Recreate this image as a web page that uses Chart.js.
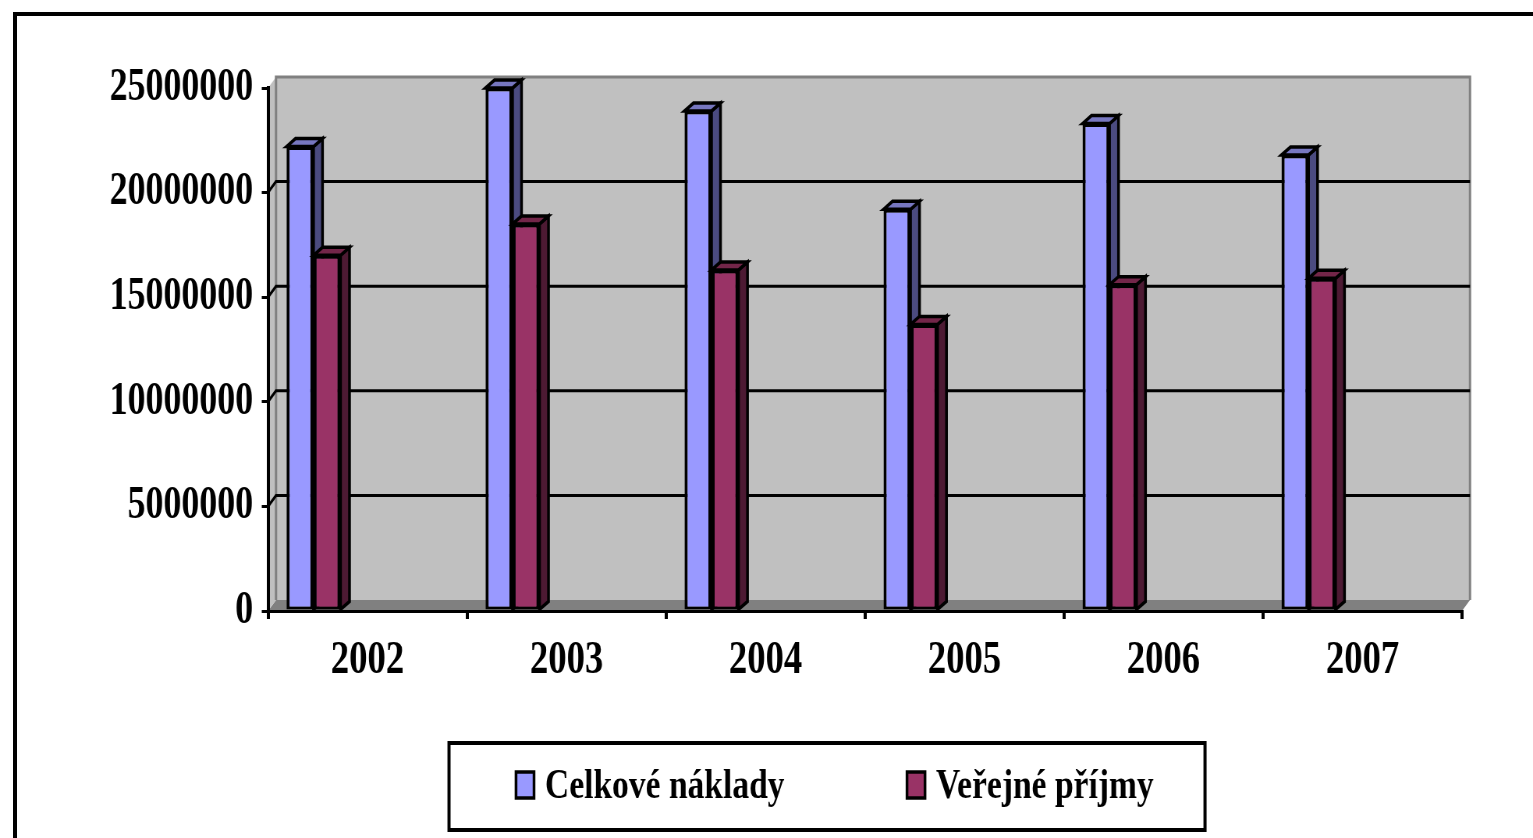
<!DOCTYPE html>
<html>
<head>
<meta charset="utf-8">
<script src="https://cdn.jsdelivr.net/npm/chart.js@4"></script>
<style>
html, body { margin:0; padding:0; background:#fff; overflow:hidden; width:1533px; height:838px; }
#frame { position:absolute; left:13px; top:12px; width:1600px; height:900px; border-left:4px solid #000; border-top:4px solid #000; }
#wrap { position:absolute; left:0; top:0; width:1965px; height:838px; transform:scaleX(0.78015); transform-origin:0 0; }
</style>
</head>
<body>
<div id="frame"></div>
<div id="wrap"><canvas id="c" width="1965" height="838"></canvas></div>
<script>
const years = ["2002", "2003", "2004", "2005", "2006", "2007"]
const celkoveNaklady = [22200000, 25000000, 23900000, 19200000, 23300000, 21800000]
const verejnePrijmy = [17000000, 18500000, 16300000, 13700000, 15600000, 15900000]
const seriesNames = ["Celkové náklady", "Veřejné příjmy"]
const yTicks = [0, 5000000, 10000000, 15000000, 20000000, 25000000]

const S = 1533 / 1965   // horizontal squeeze of the whole picture
const font = { family: "Liberation Serif", weight: "bold", size: 47 }

// face colours: front, side, top
const faces = [
    ["#9999FF", "#4B4B80", "#7777C0"],
    ["#993366", "#4D1A33", "#732649"]
]

function poly(ctx, pts, fill) {
    ctx.beginPath()
    ctx.moveTo(pts[0][0], pts[0][1])
    for (var i = 1; i < pts.length; i++) ctx.lineTo(pts[i][0], pts[i][1])
    ctx.closePath()
    ctx.fillStyle = fill
    ctx.fill()
    ctx.stroke()
}

const wallPlugin = {
    id: "walls",
    beforeDraw(chart) {
        const ctx = chart.ctx
        const a = chart.chartArea
        const y = chart.scales.y
        const dx = 8 / S, dy = 11
        ctx.save()
        // floor
        ctx.fillStyle = "#808080"
        ctx.beginPath()
        ctx.moveTo(a.left, a.bottom)
        ctx.lineTo(a.left + dx, a.bottom - dy)
        ctx.lineTo(a.right + dx, a.bottom - dy)
        ctx.lineTo(a.right, a.bottom)
        ctx.closePath()
        ctx.fill()
        // left wall
        ctx.fillStyle = "#C0C0C0"
        ctx.beginPath()
        ctx.moveTo(a.left, a.top)
        ctx.lineTo(a.left + dx, a.top - dy)
        ctx.lineTo(a.left + dx, a.bottom - dy)
        ctx.lineTo(a.left, a.bottom)
        ctx.closePath()
        ctx.fill()
        // back wall
        ctx.fillRect(a.left + dx, a.top - dy, a.right - a.left, a.bottom - a.top)
        ctx.strokeStyle = "#808080"
        ctx.lineWidth = 3
        ctx.beginPath()
        ctx.moveTo(a.left + dx, a.bottom - dy)
        ctx.lineTo(a.left + dx, a.top - dy)
        ctx.lineTo(a.right + dx, a.top - dy)
        ctx.lineTo(a.right + dx, a.bottom - dy)
        ctx.stroke()
        // grid lines on back wall
        ctx.strokeStyle = "#000"
        ctx.lineWidth = 3
        yTicks.forEach(v => {
            if (v == 0 || v == y.max) return
            const py = y.getPixelForValue(v)
            ctx.beginPath()
            ctx.moveTo(a.left, py)
            ctx.lineTo(a.left + dx, py - dy)
            ctx.lineTo(a.right + dx, py - dy)
            ctx.stroke()
        })
        ctx.restore()
    },
    afterDatasetsDraw(chart) {
        const ctx = chart.ctx
        const dx = 9 / S, dy = 8
        const blue = chart.getDatasetMeta(0).data
        const red = chart.getDatasetMeta(1).data
        ctx.save()
        ctx.strokeStyle = "#000"
        ctx.lineWidth = 3.5
        for (var i = 0; i < blue.length; i++) {
            [blue[i], red[i]].forEach((b, k) => {
                // red front sits over the blue side face
                if (k == 1) b.draw(ctx)
                const l = b.x - b.width / 2, r = b.x + b.width / 2
                poly(ctx, [[r, b.y], [r + dx, b.y - dy], [r + dx, b.base - dy], [r, b.base]], faces[k][1])
                poly(ctx, [[l, b.y], [l + dx, b.y - dy], [r + dx, b.y - dy], [r, b.y]], faces[k][2])
            })
        }
        ctx.restore()
    },
    afterDraw(chart) {
        const ctx = chart.ctx
        ctx.save()
        ctx.strokeStyle = "#000"
        ctx.lineWidth = 4
        ctx.strokeRect(449 / S, 743, (1205 - 449) / S, 87)
        const marks = [516, 907]
        ctx.font = "bold 43px 'Liberation Serif'"
        ctx.textBaseline = "alphabetic"
        seriesNames.forEach((name, k) => {
            ctx.fillStyle = faces[k][0]
            ctx.lineWidth = 3.5
            ctx.fillRect(marks[k] / S, 772, 18 / S, 26)
            ctx.strokeRect(marks[k] / S, 772, 18 / S, 26)
            ctx.fillStyle = "#000"
            ctx.fillText(name, (marks[k] + 29) / S, 798)
        })
        ctx.restore()
    }
}

const dummy = years.map(() => null)

new Chart(document.getElementById("c"), {
    type: "bar",
    data: {
        labels: years,
        datasets: [
            { label: seriesNames[0], data: celkoveNaklady, backgroundColor: faces[0][0] },
            { label: seriesNames[1], data: verejnePrijmy, backgroundColor: faces[1][0] },
            { label: "", data: dummy },
            { label: "", data: dummy },
            { label: "", data: dummy },
            { label: "", data: dummy }
        ]
    },
    options: {
        responsive: false,
        animation: false,
        devicePixelRatio: 1,
        layout: { padding: { left: 0, right: 1965 - 1462 / S, top: 88, bottom: 0 } },
        datasets: {
            bar: {
                categoryPercentage: 0.814,
                barPercentage: 1,
                borderColor: "#000",
                borderWidth: { top: 3.5, bottom: 3, left: 4, right: 4 },
                borderSkipped: false
            }
        },
        plugins: { legend: { display: false }, tooltip: { enabled: false } },
        scales: {
            x: {
                grid: { offset: true, drawOnChartArea: false, tickLength: 8, color: "#000", lineWidth: 4 },
                border: { color: "#000", width: 3 },
                ticks: { font: font, color: "#000", padding: 14, maxRotation: 0 },
                afterFit: s => { s.height = 838 - 611 }
            },
            y: {
                min: 0,
                max: 25000000,
                afterBuildTicks: s => { s.ticks = yTicks.map(v => ({ value: v })) },
                grid: { drawOnChartArea: false, tickLength: 8, color: "#000", lineWidth: 3 },
                border: { color: "#000", width: 4 },
                ticks: { font: { family: "Liberation Serif", weight: "bold", size: 46 }, color: "#000", padding: 11, callback: v => String(v) },
                afterFit: s => { s.width = 268 / S }
            }
        }
    },
    plugins: [wallPlugin]
})
</script>
</body>
</html>
